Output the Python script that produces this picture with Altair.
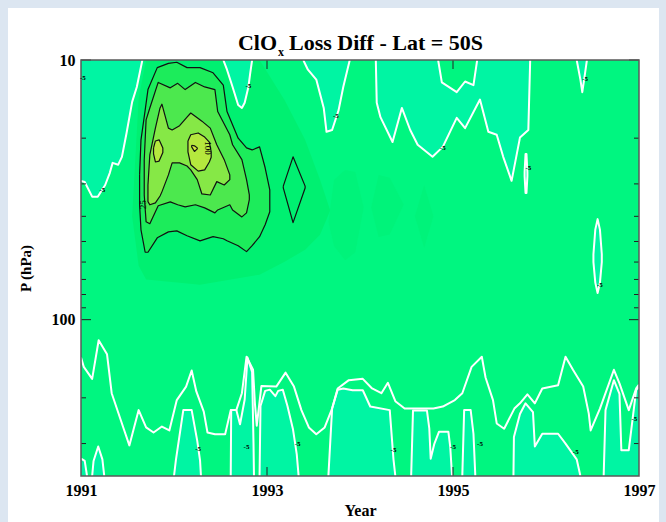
import altair as alt
import pandas as pd

# ---------------- axes ----------------
YEAR_RANGE = [1991, 1997]
P_RANGE = [10, 400]
YEAR_LABELS = [1991, 1993, 1995, 1997]
YEAR_INNER_TICKS = [1993, 1995]
P_MAJOR = [10, 100]
P_MINOR = [20, 30, 40, 50, 60, 70, 80, 90, 200, 300]

# ---------------- colours ----------------
BASE = "#00F680"
LIGHT = "#00F5A3"
HALO = "#00F071"
PATCH = "#00F37A"
C1F = "#1CEC5B"
C2F = "#4CE84E"
C3F = "#86E846"
C4F = "#B5E83E"
C5F = "#D4EA3A"

# ---------------- low-value regions hanging from the 10 hPa edge ----------------
lobeA_year = [1991.00, 1991.04, 1991.12, 1991.18, 1991.26, 1991.31, 1991.34, 1991.40, 1991.44, 1991.49, 1991.55, 1991.60, 1991.66]
lobeA_p = [29.2, 29.5, 33.6, 33.6, 30.3, 27.2, 24.9, 25.3, 23.6, 19.1, 14.5, 12.7, 10.0]
lobeB_year = [1992.53, 1992.57, 1992.63, 1992.69, 1992.73, 1992.76, 1992.80, 1992.82, 1992.84]
lobeB_p = [10.0, 10.9, 12.7, 14.9, 15.3, 14.6, 12.7, 11.2, 10.0]
lobeC_year = [1993.39, 1993.44, 1993.53, 1993.61, 1993.64, 1993.70, 1993.77, 1993.82, 1993.89]
lobeC_p = [10.0, 10.9, 11.9, 15.3, 18.9, 18.6, 15.6, 12.7, 10.0]
lobeD_year = [1994.17, 1994.18, 1994.22, 1994.35, 1994.45, 1994.54, 1994.62, 1994.78, 1994.89, 1995.04,
              1995.13, 1995.29, 1995.38, 1995.47, 1995.54, 1995.63, 1995.72, 1995.81, 1995.83]
lobeD_p = [10.0, 14.6, 16.6, 20.7, 15.3, 18.6, 21.2, 23.6, 21.6, 16.7,
           18.3, 14.2, 18.9, 19.4, 23.6, 29.2, 19.9, 18.6, 10.0]
lobeE_year = [1996.33, 1996.37, 1996.39, 1996.41, 1996.44]
lobeE_p = [10.0, 11.9, 13.3, 11.9, 10.0]
holeD_year = [1994.84, 1994.88, 1995.04, 1995.13, 1995.22, 1995.26]
holeD_p = [10.0, 12.2, 13.3, 12.1, 12.5, 10.0]

# small isolated loops (year, upper p, lower p)
loop1_year = [1995.77, 1995.78, 1995.79, 1995.80]
loop1_top = [27.0, 23.0, 23.0, 27.0]
loop1_bot = [28.0, 32.5, 32.5, 28.0]
loop2_year = [1996.51, 1996.53, 1996.555, 1996.58, 1996.60]
loop2_top = [56.0, 45.0, 41.0, 45.0, 56.0]
loop2_bot = [60.0, 72.0, 79.0, 72.0, 60.0]

# ---------------- lower troposphere contours ----------------
low_line_year = [1991.00, 1991.03, 1991.12, 1991.19, 1991.28, 1991.33, 1991.43, 1991.52, 1991.62, 1991.70,
                 1991.78, 1991.87, 1991.95, 1992.03, 1992.13, 1992.19, 1992.24, 1992.32, 1992.36, 1992.44,
                 1992.55, 1992.61, 1992.67, 1992.73, 1992.78, 1992.85, 1992.87, 1992.89, 1992.94, 1993.10,
                 1993.20, 1993.29, 1993.37, 1993.45, 1993.53, 1993.62, 1993.70, 1993.76, 1993.88, 1994.03,
                 1994.13, 1994.23, 1994.30, 1994.38, 1994.48, 1994.79, 1994.89, 1995.02, 1995.10, 1995.20,
                 1995.31, 1995.35, 1995.43, 1995.47, 1995.55, 1995.66, 1995.72, 1995.80, 1995.88, 1995.96,
                 1996.13, 1996.21, 1996.29, 1996.40, 1996.46, 1996.48, 1996.58, 1996.73, 1996.79, 1996.89,
                 1996.97, 1997.00]
low_line_p = [140, 152, 169, 120, 136, 192, 245, 305, 223, 260,
              272, 258, 267, 204, 181, 157, 189, 226, 272, 276,
              276, 223, 223, 192, 139, 156, 210, 256, 180, 181,
              160, 181, 223, 260, 276, 260, 220, 184, 171, 169,
              184, 192, 175, 206, 220, 220, 216, 204, 192, 152,
              139, 167, 204, 251, 263, 220, 210, 194, 210, 184,
              179, 139, 156, 181, 230, 267, 220, 156, 176, 223,
              184, 178]

# light regions rising from the bottom edge
R1_year = [1991.00, 1991.04, 1991.065]
R1_p = [343, 350, 400]
R2_year = [1991.12, 1991.135, 1991.185, 1991.23, 1991.25]
R2_p = [400, 350, 308, 345, 400]
R3_year = [1992.00, 1992.02, 1992.10, 1992.19, 1992.25, 1992.28, 1992.29]
R3_p = [400, 348, 223, 223, 293, 348, 400]
R4_year = [1992.61, 1992.615, 1992.67, 1992.71, 1992.76, 1992.79, 1992.84, 1992.855, 1992.86]
R4_p = [400, 223, 223, 253, 203, 140, 159, 300, 400]
R5_year = [1992.92, 1992.93, 1992.98, 1993.03, 1993.09, 1993.12, 1993.17, 1993.22, 1993.28, 1993.32, 1993.34]
R5_p = [400, 215, 188, 186, 197, 188, 186, 215, 265, 330, 400]
R6_year = [1993.66, 1993.70, 1993.76, 1993.82, 1993.92, 1994.03, 1994.11, 1994.32, 1994.36, 1994.38]
R6_p = [400, 220, 186, 184, 187, 187, 216, 223, 345, 400]
R7_year = [1994.55, 1994.57, 1994.72, 1994.745, 1994.76, 1994.80, 1994.85, 1994.95, 1994.97, 1994.99]
R7_p = [400, 224, 224, 262, 343, 300, 270, 270, 308, 400]
R8_year = [1995.10, 1995.12, 1995.19, 1995.22, 1995.24]
R8_p = [400, 223, 223, 275, 400]
R9_year = [1995.65, 1995.655, 1995.72, 1995.78, 1995.86, 1995.88, 1995.96, 1996.13, 1996.21, 1996.33, 1996.37]
R9_p = [400, 283, 231, 210, 227, 308, 275, 275, 300, 345, 400]
R10_year = [1996.62, 1996.64, 1996.73, 1996.79, 1996.81, 1996.89, 1996.97, 1997.00]
R10_p = [400, 223, 171, 193, 318, 318, 186, 182]

# ---------------- positive anomaly (year, upper p, lower p) ----------------
halo_year = [1991.55, 1991.62, 1991.70, 1992.28, 1992.92, 1993.19, 1993.41, 1993.57, 1993.68]
halo_top = [40, 14, 10, 10, 10, 14.3, 20.3, 28.9, 38]
halo_bot = [40, 62, 70, 73.4, 67.1, 59.8, 53.8, 47.1, 38]
patch1_year = [1993.66, 1993.72, 1993.84, 1993.95, 1994.04]
patch1_top = [42, 29, 26.5, 27, 37]
patch1_bot = [42, 52, 59, 55, 37]
patch2_year = [1994.12, 1994.20, 1994.32, 1994.47]
patch2_top = [37, 27.7, 28.4, 36]
patch2_bot = [37, 48, 47, 36]
patch3_year = [1994.59, 1994.69, 1994.79]
patch3_top = [40, 30.3, 40]
patch3_bot = [40, 53, 40]

c1_year = [1991.63, 1991.645, 1991.69, 1991.72, 1991.82, 1991.94, 1992.03, 1992.14, 1992.28, 1992.42,
           1992.53, 1992.57, 1992.69, 1992.78, 1992.84, 1992.92, 1992.98, 1993.03]
c1_top = [27.7, 20.3, 15.6, 13.0, 10.7, 10.3, 10.2, 10.7, 10.7, 11.2, 12.5, 15.8, 20.0, 21.8, 22.2, 21.6, 26.0, 31.6]
c1_bot = [36.1, 45.1, 55.0, 55.0, 48.4, 45.9, 45.5, 47.5, 49.7, 47.9, 48.8, 49.7, 51.9, 54.7, 51.9, 47.9, 43.1, 38.4]
c2_year = [1991.68, 1991.70, 1991.74, 1991.83, 1991.96, 1992.04, 1992.12, 1992.23, 1992.33, 1992.44,
           1992.47, 1992.60, 1992.63, 1992.73, 1992.78, 1992.81]
c2_top = [24.2, 17.0, 15.3, 12.2, 12.8, 12.3, 13.0, 12.2, 12.7, 13.0, 15.8, 19.4, 21.2, 24.2, 28.9, 33.1]
c2_bot = [33.1, 42.0, 42.7, 36.4, 35.2, 36.1, 36.8, 36.1, 37.1, 38.8, 37.8, 36.1, 37.8, 40.2, 38.8, 34.5]
c3_year = [1991.72, 1991.74, 1991.80, 1991.85, 1991.87, 1991.94, 1991.98, 1992.06, 1992.14, 1992.18,
           1992.25, 1992.30, 1992.39, 1992.46, 1992.54, 1992.60]
c3_top = [30.3, 23.2, 18.3, 15.3, 14.8, 18.3, 18.6, 17.9, 16.6, 16.0, 16.7, 17.2, 18.3, 21.2, 24.2, 27.7]
c3_bot = [35.1, 36.1, 35.5, 33.4, 32.2, 27.7, 24.9, 24.9, 25.6, 26.5, 28.9, 32.8, 33.1, 29.4, 30.3, 28.9]
c4a_year = [1991.78, 1991.80, 1991.84, 1991.88]
c4a_top = [21.8, 20.5, 20.3, 21.8]
c4a_bot = [23.0, 24.7, 24.5, 22.7]
c4b_year = [1992.15, 1992.18, 1992.26, 1992.33, 1992.38, 1992.40]
c4b_top = [20.5, 19.4, 19.1, 19.8, 20.7, 22.6]
c4b_bot = [22.6, 25.3, 26.8, 26.5, 24.7, 23.7]
c5_year = [1992.19, 1992.22, 1992.25]
c5_top = [21.3, 21.4, 21.8]
c5_bot = [21.6, 22.5, 22.0]
c6_year = [1993.175, 1993.28, 1993.41]
c6_top = [30.6, 23.6, 30.6]
c6_bot = [31.1, 42.3, 31.1]

# contour labels
neg_lab_year = [1991.02, 1992.80, 1991.23, 1993.74, 1994.89, 1996.42, 1995.81, 1996.58,
                1992.26, 1992.78, 1993.33, 1994.36, 1995.00, 1995.29, 1996.32, 1996.95]
neg_lab_p = [11.7, 12.6, 31.6, 16.5, 21.8, 11.8, 26.0, 73.4,
             314, 310, 300, 319, 310, 302, 324, 242]
pos_lab_year = [1991.67, 1992.37]
pos_lab_p = [36.1, 21.8]
pos_lab_text = ["25", "100"]

# ---------------- scales / encodings ----------------
FONT = "Liberation Serif"
XS = alt.Scale(domain=YEAR_RANGE, nice=False, zero=False)
YS = alt.Scale(type="log", domain=P_RANGE, reverse=True, nice=False)
XAX = alt.Axis(values=YEAR_LABELS, format="d", title="Year", labelFlush=False, ticks=False,
               domain=False, grid=False, labelPadding=6, titlePadding=4, zindex=1)
YAX = alt.Axis(values=P_MAJOR, format="d", title="P (hPa)", ticks=False, domain=False, grid=False,
               labelPadding=6, titlePadding=18, titleFontSize=15, zindex=1)


def X(f="year"):
    return alt.X(f"{f}:Q", scale=XS, axis=XAX)


def Y(f="p"):
    return alt.Y(f"{f}:Q", scale=YS, axis=YAX)


def hanging(name, years, ps, edge):
    n = len(years)
    return pd.DataFrame({"shape": name, "year": years, "p": ps, "p2": [edge] * n, "i": list(range(n))})


def region(name, years, tops, bots):
    return pd.DataFrame({"shape": name, "year": years, "p": tops, "p2": bots})


def outline(name, years, tops, bots):
    xs = list(years) + list(years)[::-1] + [years[0]]
    ps = list(tops) + list(bots)[::-1] + [tops[0]]
    return pd.DataFrame({"shape": name, "year": xs, "p": ps, "i": list(range(len(xs)))})


def fill_layer(df, color):
    return alt.Chart(df).mark_area(color=color, clip=True).encode(
        x=X(), y=Y(), y2=alt.Y2("p2:Q"), detail="shape:N")


def line_layer(df, color, width):
    return alt.Chart(df).mark_line(color=color, strokeWidth=width, clip=True, strokeJoin="round").encode(
        x=X(), y=Y(), detail="shape:N", order="i:Q")


top_df = pd.concat([
    hanging("A", lobeA_year, lobeA_p, 10), hanging("B", lobeB_year, lobeB_p, 10),
    hanging("C", lobeC_year, lobeC_p, 10), hanging("D", lobeD_year, lobeD_p, 10),
    hanging("E", lobeE_year, lobeE_p, 10)])
hole_df = hanging("H", holeD_year, holeD_p, 10)
bottom_df = pd.concat([
    hanging("R1", R1_year, R1_p, 400), hanging("R2", R2_year, R2_p, 400),
    hanging("R3", R3_year, R3_p, 400), hanging("R4", R4_year, R4_p, 400),
    hanging("R5", R5_year, R5_p, 400), hanging("R6", R6_year, R6_p, 400),
    hanging("R7", R7_year, R7_p, 400), hanging("R8", R8_year, R8_p, 400),
    hanging("R9", R9_year, R9_p, 400), hanging("R10", R10_year, R10_p, 400)])
low_line_df = pd.DataFrame({"shape": "L", "year": low_line_year, "p": low_line_p,
                            "i": list(range(len(low_line_year)))})
loops_fill = pd.concat([region("l1", loop1_year, loop1_top, loop1_bot),
                        region("l2", loop2_year, loop2_top, loop2_bot)])
loops_line = pd.concat([outline("l1", loop1_year, loop1_top, loop1_bot),
                        outline("l2", loop2_year, loop2_top, loop2_bot)])
halo_df = region("halo", halo_year, halo_top, halo_bot)
patch_df = pd.concat([region("p1", patch1_year, patch1_top, patch1_bot),
                      region("p2", patch2_year, patch2_top, patch2_bot),
                      region("p3", patch3_year, patch3_top, patch3_bot)])
black_lines = pd.concat([
    outline("c1", c1_year, c1_top, c1_bot), outline("c2", c2_year, c2_top, c2_bot),
    outline("c3", c3_year, c3_top, c3_bot), outline("c4a", c4a_year, c4a_top, c4a_bot),
    outline("c4b", c4b_year, c4b_top, c4b_bot), outline("c5", c5_year, c5_top, c5_bot),
    outline("c6", c6_year, c6_top, c6_bot)])

one = pd.DataFrame({"a": [0]})
frame_df = pd.DataFrame({"year": [YEAR_RANGE[0]], "year2": [YEAR_RANGE[1]],
                         "p": [P_RANGE[0]], "p2": [P_RANGE[1]]})

card = alt.Chart(one).mark_rect(color="white").encode(
    x=alt.value(-73), x2=alt.value(578), y=alt.value(-52), y2=alt.value(462))
base = alt.Chart(frame_df).mark_rect(color=BASE, clip=True).encode(
    x=X(), x2=alt.X2("year2:Q"), y=Y(), y2=alt.Y2("p2:Q"))
frame = alt.Chart(frame_df).mark_rect(fillOpacity=0, stroke="#5a5a5a", strokeWidth=1.5).encode(
    x=X(), x2=alt.X2("year2:Q"), y=Y(), y2=alt.Y2("p2:Q"))

layers = [
    card, base,
    fill_layer(halo_df, HALO), fill_layer(patch_df, PATCH),
    fill_layer(top_df, LIGHT), fill_layer(hole_df, BASE),
    fill_layer(bottom_df, LIGHT), fill_layer(loops_fill, LIGHT),
    fill_layer(region("c1", c1_year, c1_top, c1_bot), C1F),
    fill_layer(region("c2", c2_year, c2_top, c2_bot), C2F),
    fill_layer(region("c3", c3_year, c3_top, c3_bot), C3F),
    fill_layer(pd.concat([region("c4a", c4a_year, c4a_top, c4a_bot),
                          region("c4b", c4b_year, c4b_top, c4b_bot)]), C4F),
    fill_layer(region("c5", c5_year, c5_top, c5_bot), C5F),
    line_layer(top_df, "white", 2), line_layer(hole_df, "white", 2),
    line_layer(bottom_df, "white", 2), line_layer(low_line_df, "white", 2),
    line_layer(loops_line, "white", 2),
    line_layer(black_lines, "#111111", 1.2),
]

# tick marks (inward)
pmin = pd.DataFrame({"p": P_MINOR})
pmaj = pd.DataFrame({"p": P_MAJOR})
yin = pd.DataFrame({"year": YEAR_INNER_TICKS})
tick = dict(color="#222222", strokeWidth=1)
layers += [
    alt.Chart(pmin).mark_rule(**tick).encode(y=Y(), x=alt.value(0), x2=alt.value(5)),
    alt.Chart(pmaj).mark_rule(**tick).encode(y=Y(), x=alt.value(0), x2=alt.value(10)),
    alt.Chart(pmin).mark_rule(**tick).encode(y=Y(), x=alt.value(558), x2=alt.value(553)),
    alt.Chart(pmaj).mark_rule(**tick).encode(y=Y(), x=alt.value(558), x2=alt.value(548)),
    alt.Chart(yin).mark_rule(**tick).encode(x=X(), y=alt.value(416), y2=alt.value(407)),
    alt.Chart(yin).mark_rule(**tick).encode(x=X(), y=alt.value(0), y2=alt.value(9)),
    frame,
]

# contour labels
neg_df = pd.DataFrame({"year": neg_lab_year, "p": neg_lab_p})
pos_df = pd.DataFrame({"year": pos_lab_year, "p": pos_lab_p, "t": pos_lab_text})
layers += [
    alt.Chart(neg_df).mark_text(font=FONT, fontSize=7, fontWeight="bold", color="black").encode(
        x=X(), y=Y(), text=alt.value("-5")),
    alt.Chart(pos_df.iloc[[0]]).mark_text(font=FONT, fontSize=9, angle=270, color="black").encode(
        x=X(), y=Y(), text="t:N"),
    alt.Chart(pos_df.iloc[[1]]).mark_text(font=FONT, fontSize=9, angle=90, color="black").encode(
        x=X(), y=Y(), text="t:N"),
]

# chart title (ClO with subscript x)
tfont = dict(font=FONT, fontWeight="bold", color="black", baseline="alphabetic")
layers += [
    alt.Chart(one).mark_text(fontSize=22, align="right", **tfont).encode(
        x=alt.value(196), y=alt.value(-10), text=alt.value("ClO")),
    alt.Chart(one).mark_text(fontSize=12, align="left", **tfont).encode(
        x=alt.value(197), y=alt.value(-4), text=alt.value("x")),
    alt.Chart(one).mark_text(fontSize=22, align="left", **tfont).encode(
        x=alt.value(208), y=alt.value(-10), text=alt.value("Loss Diff - Lat = 50S")),
]

chart = alt.layer(*layers).properties(
    width=558, height=416, background="#DCE6F1", autosize="none",
    padding={"left": 81, "top": 60, "right": 27, "bottom": 46},
).configure_view(strokeWidth=0).configure_axis(
    labelFont=FONT, labelFontWeight="bold", labelFontSize=16, labelColor="black",
    titleFont=FONT, titleFontWeight="bold", titleFontSize=16, titleColor="black",
)

chart.save("out.html", embed_options={"renderer": "svg", "actions": False})
